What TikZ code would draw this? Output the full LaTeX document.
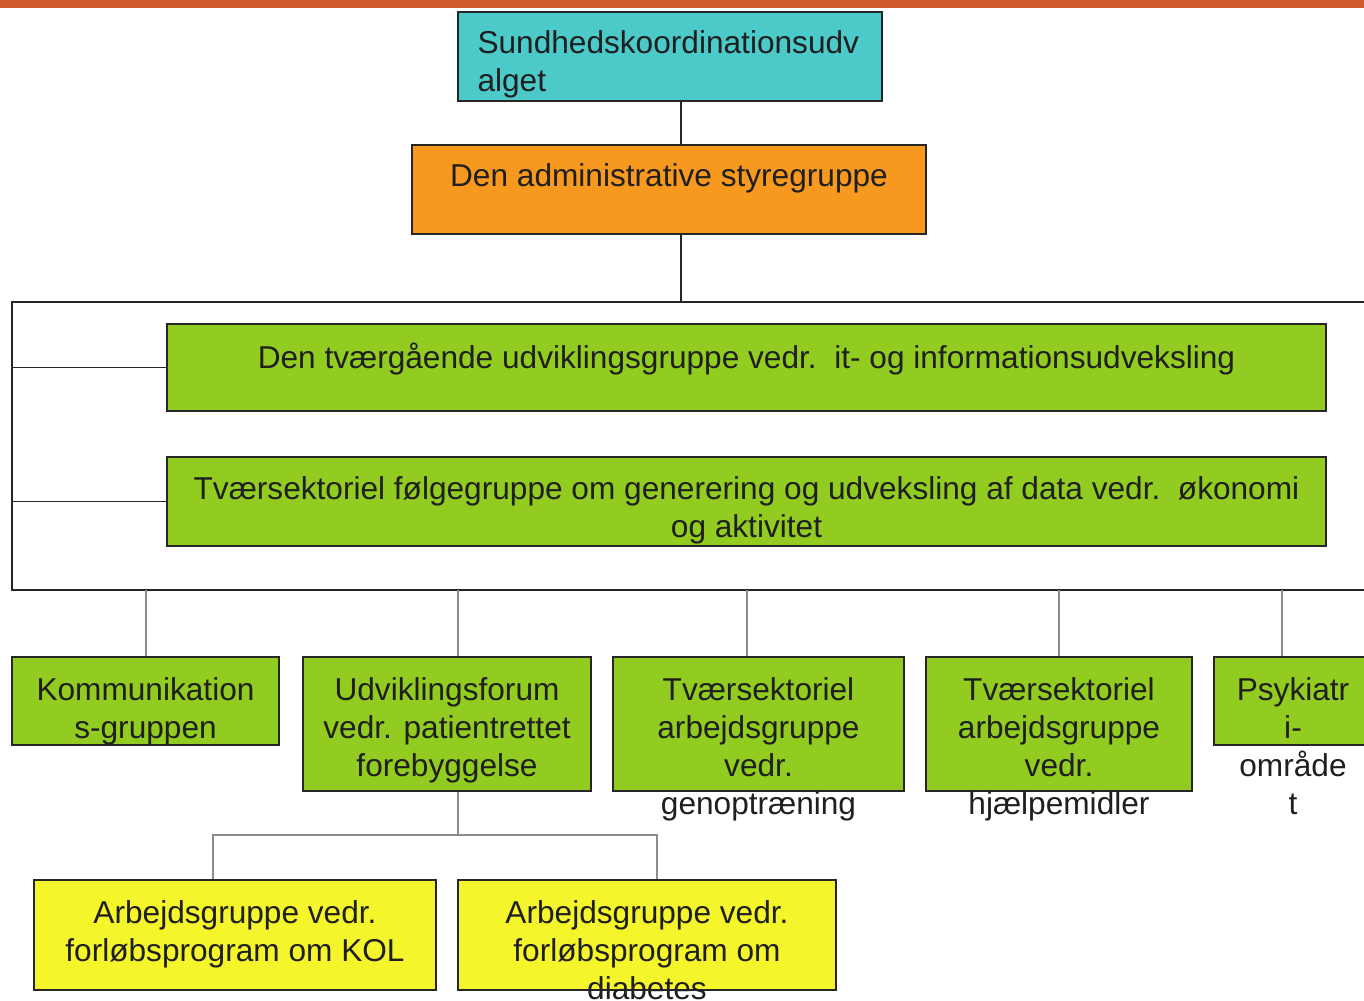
\documentclass[tikz,border=0pt]{standalone}
\usepackage{fontspec}
\setmainfont{Liberation Sans}
\usepackage{xcolor}
\definecolor{topbar}{HTML}{D0592B}
\definecolor{orgteal}{HTML}{4CC9C9}
\definecolor{orgorange}{HTML}{F7991F}
\definecolor{orggreen}{HTML}{92CC20}
\definecolor{orgyellow}{HTML}{F5F52C}
\usetikzlibrary{positioning}
\tikzset{
  ob/.style={draw=black!85, line width=1pt, rectangle, inner sep=0pt},
  oteal/.style={ob, fill=orgteal},
  oorange/.style={ob, fill=orgorange},
  ogreen/.style={ob, fill=orggreen},
  oyellow/.style={ob, fill=orgyellow},
  ot/.style={inner sep=0pt, align=center, text=black!88,
             font=\fontsize{18}{21.6}\selectfont},
  ln/.style={draw=black!85, line width=1.1pt},
  gln/.style={draw=black!45, line width=1.1pt},
}

\begin{document}
\begin{tikzpicture}[x=0.02cm, y=-0.02cm]
  \useasboundingbox (0,0) rectangle (1364,1000);
  \clip (0,0) rectangle (1364,1000);
  \fill[white] (0,0) rectangle (1364,1000);
  \fill[topbar] (0,0) rectangle (1364,8);

  % top two levels
  \node[oteal, minimum width=8.48cm, minimum height=1.78cm] (sund) at (670,56.5) {};
  \node[ot, align=left, anchor=north west] (sundt) at ([xshift=0.4cm, yshift=-0.38cm]sund.north west)
    {Sundhedskoordinationsudv\\alget};
  \node[oorange, minimum width=10.28cm, minimum height=1.78cm] (adm) at (669,189.5) {};
  \node[ot, anchor=north] (admt) at ([yshift=-0.38cm]adm.north) {Den administrative styregruppe};

  % frame
  \coordinate (ft) at (681,302);
  \coordinate (ftl) at (12,302);
  \coordinate (ftr) at (1380,302);
  \coordinate (fbl) at (12,590);
  \coordinate (fbr) at (1380,590);
  \draw[ln] (ftr) -- (ftl) -- (fbl) -- (fbr);
  \draw[ln] ([xshift=0.22cm]sund.south) -- ([xshift=0.24cm]adm.north);
  \draw[ln] ([xshift=0.24cm]adm.south) -- (ft);

  % cross-cutting groups
  \node[ogreen, minimum width=23.18cm, minimum height=1.74cm] (g1) at (746.5,367.5) {};
  \node[ot, anchor=north] (g1t) at ([yshift=-0.40cm]g1.north)
    {Den tværgående udviklingsgruppe vedr.\ \ it- og informationsudveksling};
  \node[ogreen, minimum width=23.18cm, minimum height=1.78cm] (g2) at (746.5,501.5) {};
  \node[ot, anchor=north] (g2t) at ([yshift=-0.40cm]g2.north)
    {Tværsektoriel følgegruppe om generering og udveksling af data vedr.\ \ økonomi\\og aktivitet};
  \draw[ln] (g1.west) -- (g1.west -| fbl);
  \draw[ln] (g2.west) -- (g2.west -| fbl);

  % working groups
  \node[ogreen, minimum width=5.34cm, minimum height=1.76cm] (kom) at (145.5,701) {};
  \node[ot, anchor=north] (komt) at ([yshift=-0.42cm]kom.north) {Kommunikation\\s-gruppen};
  \node[ogreen, minimum width=5.76cm, minimum height=2.68cm] (udv) at (447,724) {};
  \node[ot, anchor=north] (udvt) at ([yshift=-0.42cm]udv.north)
    {Udviklingsforum\\vedr. patientrettet\\forebyggelse};
  \node[ogreen, minimum width=5.82cm, minimum height=2.68cm] (tv1) at (758.5,724) {};
  \node[ot, anchor=north] (tv1t) at ([yshift=-0.42cm]tv1.north)
    {Tværsektoriel\\arbejdsgruppe\\vedr.\\genoptræning};
  \node[ogreen, minimum width=5.32cm, minimum height=2.68cm] (tv2) at (1059,724) {};
  \node[ot, anchor=north] (tv2t) at ([yshift=-0.42cm]tv2.north)
    {Tværsektoriel\\arbejdsgruppe\\vedr.\\hjælpemidler};
  \node[ogreen, minimum width=3.16cm, minimum height=1.76cm] (psy) at (1293,701) {};
  \node[ot, anchor=north] (psyt) at ([yshift=-0.42cm]psy.north) {Psykiatr\\i-\\område\\t};

  \coordinate (b1) at (146,590);
  \coordinate (b2) at (458,590);
  \coordinate (b3) at (747,590);
  \coordinate (b4) at (1059,590);
  \coordinate (b5) at (1282,590);
  \draw[gln] (b1) -- (b1 |- kom.north);
  \draw[gln] (b2) -- (b2 |- udv.north);
  \draw[gln] (b3) -- (b3 |- tv1.north);
  \draw[gln] (b4) -- (b4 |- tv2.north);
  \draw[gln] (b5) -- (b5 |- psy.north);

  % programme groups
  \node[oyellow, minimum width=8.04cm, minimum height=2.2cm] (y1) at (235,935) {};
  \node[ot, anchor=north] (y1t) at ([yshift=-0.42cm]y1.north)
    {Arbejdsgruppe vedr.\\forløbsprogram om KOL};
  \node[oyellow, minimum width=7.56cm, minimum height=2.2cm] (y2) at (647,935) {};
  \node[ot, anchor=north] (y2t) at ([yshift=-0.42cm]y2.north)
    {Arbejdsgruppe vedr.\\forløbsprogram om\\diabetes};

  \coordinate (uj) at (458,835);
  \coordinate (yj1) at (213,835);
  \coordinate (yj2) at (657,835);
  \draw[gln] (uj |- udv.south) -- (uj);
  \draw[gln] (yj1 |- y1.north) -- (yj1) -- (yj2) -- (yj2 |- y2.north);
\end{tikzpicture}
\end{document}
